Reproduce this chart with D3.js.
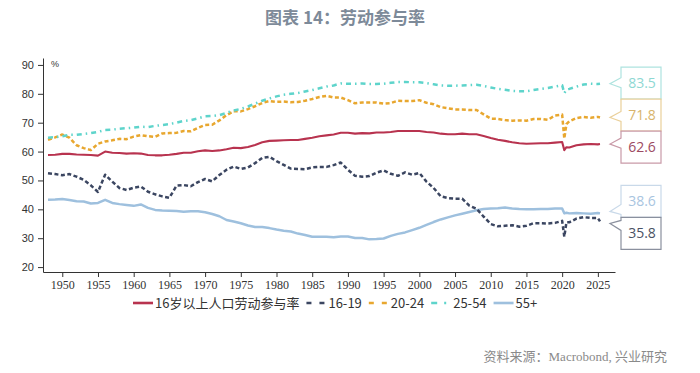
<!DOCTYPE html>
<html>
<head>
<meta charset="utf-8">
<script src="https://cdn.jsdelivr.net/npm/d3@7.9.0/dist/d3.min.js"></script>
<style>
  body { margin: 0; background: #fff; }
  svg { display: block; }
  .serif { font-family: "Liberation Serif", "Times New Roman", "DejaVu Serif", serif; }
</style>
</head>
<body>
<svg id="chart" width="700" height="373"></svg>
<script>
// x positions (start of year; 2020 split to show the covid dip)
const dates = [1948, 1949, 1950, 1951, 1952, 1953, 1954, 1955, 1956, 1957, 1958, 1959,
  1960, 1961, 1962, 1963, 1964, 1965, 1966, 1967, 1968, 1969,
  1970, 1971, 1972, 1973, 1974, 1975, 1976, 1977, 1978, 1979,
  1980, 1981, 1982, 1983, 1984, 1985, 1986, 1987, 1988, 1989,
  1990, 1991, 1992, 1993, 1994, 1995, 1996, 1997, 1998, 1999,
  2000, 2001, 2002, 2003, 2004, 2005, 2006, 2007, 2008, 2009,
  2010, 2011, 2012, 2013, 2014, 2015, 2016, 2017, 2018, 2019,
  2020.0, 2020.3, 2020.6, 2021, 2022, 2023, 2024, 2025, 2025.3];

const total16 = [58.8, 58.9, 59.2, 59.2, 59.0, 58.9, 58.8, 58.6, 60.0, 59.6, 59.5, 59.3,
  59.4, 59.3, 58.8, 58.7, 58.7, 58.9, 59.2, 59.6, 59.6, 60.1,
  60.4, 60.2, 60.4, 60.8, 61.3, 61.2, 61.6, 62.3, 63.2, 63.7,
  63.8, 63.9, 64.0, 64.0, 64.4, 64.8, 65.3, 65.6, 65.9, 66.5,
  66.5, 66.2, 66.4, 66.3, 66.6, 66.6, 66.8, 67.1, 67.1, 67.1,
  67.1, 66.8, 66.6, 66.2, 66.0, 66.0, 66.2, 66.0, 66.0, 65.4,
  64.7, 64.1, 63.7, 63.2, 62.9, 62.7, 62.8, 62.9, 62.9, 63.1,
  63.3, 60.5, 61.5, 61.4, 62.2, 62.5, 62.6, 62.5, 62.6];

const teen = [52.5, 52.2, 51.8, 52.2, 51.3, 50.2, 48.3, 46.0, 52.0, 49.6, 47.4, 46.7,
  47.5, 47.9, 46.1, 45.2, 44.5, 44.0, 48.2, 48.4, 48.0, 49.4,
  50.5, 49.7, 51.9, 53.7, 54.8, 54.0, 54.5, 56.0, 57.8, 58.2,
  56.7, 55.4, 54.1, 54.0, 53.9, 54.5, 54.7, 54.7, 55.3, 56.2,
  53.7, 51.6, 51.3, 51.5, 52.7, 53.5, 52.3, 51.6, 52.8, 52.0,
  52.6, 49.6, 47.4, 44.5, 43.9, 43.7, 43.7, 41.3, 40.2, 37.5,
  34.9, 34.1, 34.3, 34.5, 34.0, 34.3, 35.2, 35.2, 35.1, 35.3,
  36.0, 30.5, 35.5, 35.5, 36.8, 37.3, 37.0, 37.0, 35.8];

const young = [64.1, 64.9, 65.9, 64.8, 62.2, 61.2, 60.5, 62.7, 63.5, 63.9, 64.4, 64.3,
  65.2, 65.7, 65.3, 65.1, 66.3, 66.4, 66.5, 67.1, 67.0, 68.2,
  69.2, 69.3, 70.8, 72.6, 74.0, 73.9, 74.7, 75.7, 76.8, 77.5,
  77.2, 77.3, 77.1, 77.2, 77.6, 78.2, 78.9, 79.3, 78.7, 78.7,
  77.8, 76.7, 77.0, 77.0, 77.0, 76.6, 76.8, 77.6, 77.5, 77.5,
  77.8, 76.9, 76.4, 75.4, 75.0, 74.6, 74.6, 74.4, 74.4, 72.9,
  71.4, 71.3, 70.9, 70.7, 70.8, 70.7, 71.3, 71.3, 71.0, 72.5,
  72.8, 64.5, 69.5, 70.5, 71.6, 72.0, 71.7, 72.0, 71.8];

const prime = [64.8, 65.0, 65.3, 65.8, 65.8, 66.1, 66.4, 66.8, 67.5, 67.6, 67.9, 68.1,
  68.3, 68.6, 68.5, 68.9, 69.2, 69.5, 70.0, 70.6, 70.9, 71.5,
  72.2, 72.3, 72.6, 73.4, 74.2, 74.8, 75.6, 76.6, 77.6, 78.4,
  79.1, 79.7, 80.0, 80.3, 80.8, 81.3, 81.9, 82.5, 82.9, 83.6,
  83.5, 83.5, 83.6, 83.4, 83.4, 83.5, 83.8, 84.1, 84.1, 84.0,
  84.0, 83.7, 83.3, 82.9, 82.8, 82.8, 82.9, 83.0, 83.1, 82.7,
  82.2, 81.7, 81.4, 81.0, 80.9, 80.9, 81.3, 81.7, 82.0, 82.5,
  83.0, 80.2, 81.5, 81.7, 82.5, 83.2, 83.5, 83.4, 83.5];

const older = [43.3, 43.4, 43.6, 43.2, 42.8, 42.7, 42.0, 42.2, 43.3, 42.2, 41.8, 41.5,
  41.2, 41.7, 40.5, 39.8, 39.6, 39.5, 39.4, 39.2, 39.3, 39.3,
  39.0, 38.4, 37.6, 36.3, 35.8, 35.2, 34.4, 33.9, 33.9, 33.5,
  33.0, 32.6, 32.3, 31.6, 31.1, 30.5, 30.5, 30.5, 30.3, 30.6,
  30.6, 30.1, 30.1, 29.6, 29.7, 29.9, 30.8, 31.5, 32.0, 32.8,
  33.6, 34.6, 35.6, 36.5, 37.2, 37.9, 38.5, 39.1, 39.7, 40.1,
  40.3, 40.4, 40.6, 40.3, 40.1, 40.0, 40.0, 40.1, 40.1, 40.3,
  40.3, 38.6, 38.8, 38.6, 38.7, 38.6, 38.5, 38.7, 38.6];

const seriesNames = ['16岁以上人口劳动参与率', '16-19', '20-24', '25-54', '55+'];
const yTicks = [20, 30, 40, 50, 60, 70, 80, 90];
const xTicks = [1950, 1955, 1960, 1965, 1970, 1975, 1980, 1985, 1990, 1995,
  2000, 2005, 2010, 2015, 2020, 2025];

const series = [
  { name: seriesNames[0], values: total16, color: '#b8334f', dash: null, width: 2.1,
    box: '#c99aa8', text: '#9c4a62' },
  { name: seriesNames[1], values: teen, color: '#3b4661', dash: '4,2.5', width: 2.5,
    box: '#8a909e', text: '#4a5264' },
  { name: seriesNames[2], values: young, color: '#e8a72f', dash: '4,2.5', width: 2.5,
    box: '#ead09a', text: '#d8b46c' },
  { name: seriesNames[3], values: prime, color: '#5ed4cb', dash: '5,4,1.5,4', width: 2.5,
    box: '#aee3df', text: '#8ed8d3' },
  { name: seriesNames[4], values: older, color: '#9ec0de', dash: null, width: 2.5,
    box: '#c9d9e9', text: '#a9c5df' }
];

const svg = d3.select('#chart');

const x = d3.scaleLinear().domain([1947.3, 2027.4]).range([43, 615]);
const y = d3.scaleLinear().domain([18.3, 92.4]).range([272, 58]);

// title
svg.append('text')
  .attr('x', 345).attr('y', 24)
  .attr('text-anchor', 'middle')
  .style('font-family', '"Noto Sans CJK SC", sans-serif')
  .style('font-weight', 'bold')
  .style('font-size', '17px')
  .attr('fill', '#7d8a99')
  .text('图表 14：劳动参与率');

// axes
const yAxis = svg.append('g')
  .attr('transform', 'translate(43,0)')
  .call(d3.axisLeft(y).tickValues(yTicks).tickSize(5).tickSizeOuter(0).tickPadding(4));
yAxis.selectAll('text')
  .style('font-family', '"Liberation Sans", Arial, sans-serif')
  .style('font-size', '11px')
  .attr('fill', '#333');

const xAxis = svg.append('g')
  .attr('transform', 'translate(0,272)')
  .call(d3.axisBottom(x).tickValues(xTicks).tickFormat(d3.format('d'))
    .tickSize(5).tickSizeOuter(0).tickPadding(3));
xAxis.selectAll('text')
  .attr('class', 'serif')
  .style('font-family', '"Liberation Serif", "Times New Roman", "DejaVu Serif", serif')
  .style('font-size', '12px')
  .attr('fill', '#333');

svg.selectAll('.domain, .tick line').attr('stroke', '#333');

svg.append('text')
  .attr('x', 51).attr('y', 67)
  .style('font-family', '"Liberation Sans", sans-serif')
  .style('font-size', '9px')
  .attr('fill', '#333')
  .text('%');

// lines
const line = d3.line()
  .x((d, i) => x(dates[i]))
  .y(d => y(d));

// draw order: 55+, 16-19, 20-24, 25-54, total on top
const order = [4, 1, 2, 3, 0];
svg.append('g')
  .selectAll('path')
  .data(order.map(i => series[i]))
  .join('path')
  .attr('d', d => line(d.values))
  .attr('fill', 'none')
  .attr('stroke', d => d.color)
  .attr('stroke-width', d => d.width)
  .attr('stroke-dasharray', d => d.dash)
  .attr('stroke-linejoin', 'round');

// callout boxes on the right: stack overlapping boxes around their mean
const boxH = 32, boxL = 621, boxR = 661, tipX = 610;
let labels = series.map(s => {
  const v = s.values[s.values.length - 1];
  return { s, v, ty: y(v) };
}).sort((a, b) => a.ty - b.ty);

let clusters = labels.map(l => ({ items: [l], top: l.ty - boxH / 2 }));
let merged = true;
while (merged) {
  merged = false;
  for (let i = 0; i < clusters.length - 1; i++) {
    const a = clusters[i], b = clusters[i + 1];
    if (a.top + a.items.length * boxH > b.top) {
      const items = a.items.concat(b.items);
      const mean = d3.mean(items, d => d.ty);
      clusters.splice(i, 2, { items, top: mean - items.length * boxH / 2 });
      merged = true;
      break;
    }
  }
}
clusters.forEach(c => c.items.forEach((l, k) => { l.top = c.top + k * boxH; }));

const callouts = svg.append('g')
  .selectAll('g')
  .data(labels)
  .join('g');

callouts.append('path')
  .attr('d', l => {
    const top = l.top, bot = l.top + boxH;
    const tip = Math.max(top + 6, Math.min(bot - 6, l.ty));
    const n1 = Math.max(top + 3, Math.min(bot - 13, tip - 6));
    const n2 = n1 + 10;
    return `M${boxL},${top}H${boxR}V${bot}H${boxL}V${n2}L${tipX},${tip}L${boxL},${n1}Z`;
  })
  .attr('fill', '#fff')
  .attr('stroke', l => l.s.box)
  .attr('stroke-width', 1.2);

callouts.append('text')
  .attr('x', (boxL + boxR) / 2 + 1)
  .attr('y', l => l.top + boxH / 2 + 5)
  .attr('text-anchor', 'middle')
  .style('font-family', '"Open Sans", "Noto Sans", sans-serif')
  .style('font-size', '14px')
  .attr('fill', l => l.s.text)
  .text(l => l.v.toFixed(1));

// legend
const legend = svg.append('g').attr('transform', 'translate(133,303)');
let lx = 0;
series.forEach(s => {
  const g = legend.append('g').attr('transform', `translate(${lx},0)`);
  g.append('line')
    .attr('x1', 0).attr('x2', 20).attr('y1', 0).attr('y2', 0)
    .attr('stroke', s.color)
    .attr('stroke-width', 2.6)
    .attr('stroke-dasharray', s.dash ? (s.name === '25-54' ? '6,7,2,7' : '5,8') : null);
  const t = g.append('text')
    .attr('x', 22).attr('y', 5)
    .style('font-family', '"Noto Sans CJK SC", sans-serif')
    .style('font-size', '13px')
    .attr('fill', '#333')
    .text(s.name);
  lx += 22 + t.node().getComputedTextLength() + 7;
});

// source
svg.append('text')
  .attr('x', 667).attr('y', 361)
  .attr('text-anchor', 'end')
  .style('font-family', '"Liberation Serif", "Times New Roman", "Noto Sans CJK SC", serif')
  .style('font-size', '13px')
  .attr('fill', '#8a8a8a')
  .text('资料来源：Macrobond, 兴业研究');
</script>
</body>
</html>
